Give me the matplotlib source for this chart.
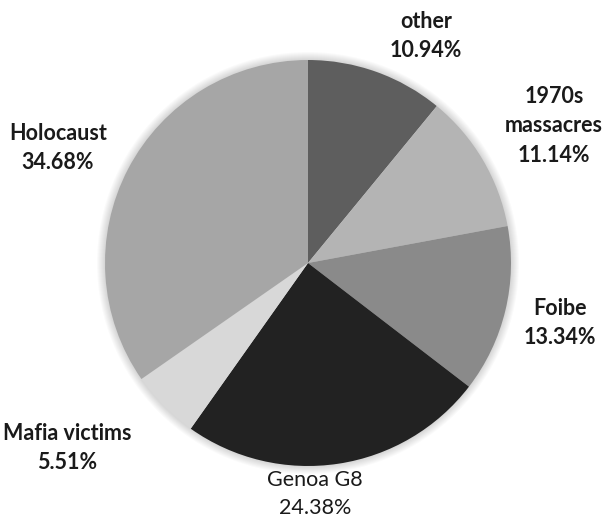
import matplotlib.pyplot as plt
from matplotlib.patches import Circle

# share of each category, clockwise from 12 o'clock
labels = ["other", "1970s\nmassacres", "Foibe", "Genoa G8", "Mafia victims", "Holocaust"]
shares = [10.94, 11.14, 13.34, 24.38, 5.51, 34.68]
colors = ["#5e5e5e", "#b4b4b4", "#8a8a8a", "#222222", "#d8d8d8", "#a6a6a6"]

# label block centres in pixel space (x from left, y from top)
label_pos = [(426, 36), (554, 126), (560, 323), (315, 494), (67, 448), (58, 148)]

W, H = 609, 520
cx, cy, R = 308, 263, 203

fig = plt.figure(figsize=(W / 100, H / 100), dpi=100)
ax = fig.add_axes([0, 0, 1, 1])

# soft halo around the pie
for i in range(8, 0, -1):
    ax.add_patch(Circle((cx, H - cy), R + i, color="#000000", alpha=0.018, lw=0, zorder=0))

ax.pie(shares, colors=colors, startangle=90, counterclock=False,
       center=(cx, H - cy), radius=R, frame=True,
       wedgeprops=dict(linewidth=0))
ax.set_xlim(0, W)
ax.set_ylim(0, H)
ax.set_aspect("equal")
ax.axis("off")

for lab, val, (x, y) in zip(labels, shares, label_pos):
    weight = "normal" if lab == "Genoa G8" else "bold"
    ax.text(x, H - y, f"{lab}\n{val:.2f}%", ha="center", va="center",
            fontsize=15.5, family="Lato", fontweight=weight, color="#1a1a1a",
            linespacing=1.5)

fig.savefig("out.png", dpi=100)
